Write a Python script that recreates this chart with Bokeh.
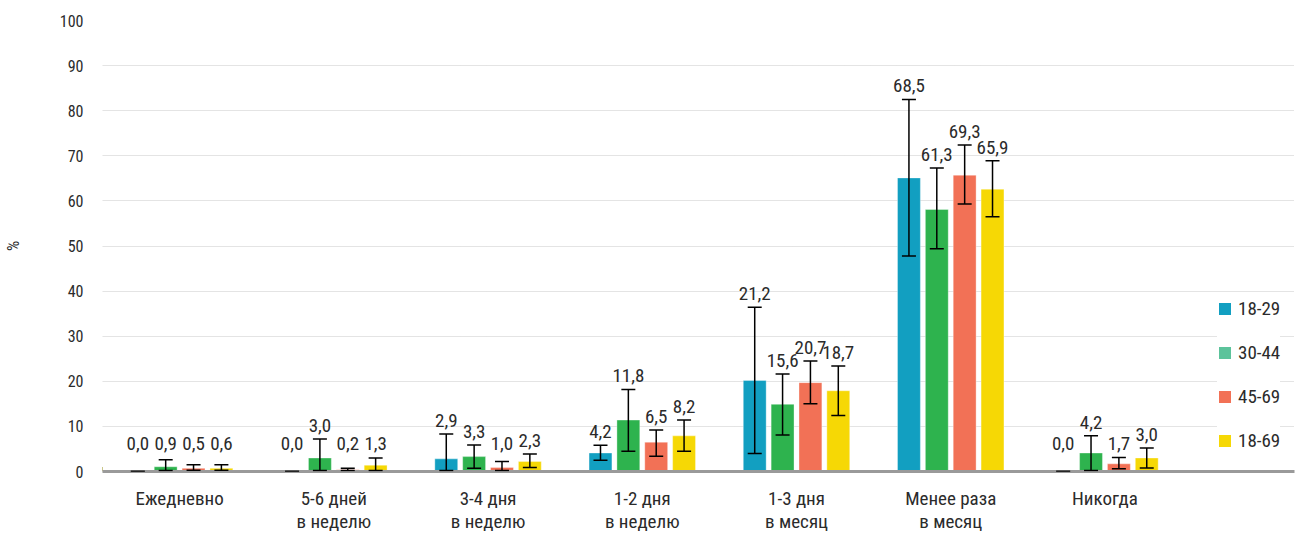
from bokeh.plotting import figure
from bokeh.models import (ColumnDataSource, Range1d, FixedTicker, Whisker, TeeHead,
                          Legend, LegendItem)
from bokeh.core.properties import value
from bokeh.embed import file_html
from bokeh.resources import INLINE

# ---------------- data ----------------
categories = ["Ежедневно", "5-6 дней\nв неделю", "3-4 дня\nв неделю", "1-2 дня\nв неделю",
              "1-3 дня\nв месяц", "Менее раза\nв месяц", "Никогда"]
series = ["18-29", "30-44", "45-69", "18-69"]

# bar heights (as drawn)
bars_18_29 = [0.0, 0.0, 2.8, 4.1, 20.2, 65.1, 0.0]
bars_30_44 = [1.05, 3.0, 3.3, 11.4, 14.9, 58.1, 4.1]
bars_45_69 = [0.7, 0.4, 0.9, 6.5, 19.7, 65.7, 1.7]
bars_18_69 = [0.7, 1.4, 2.2, 7.9, 17.9, 62.6, 3.0]

# error bars
low_18_29 = [0.0, 0.0, 0.2, 2.5, 4.0, 47.8, 0.0]
high_18_29 = [0.0, 0.0, 8.3, 5.8, 36.4, 82.5, 0.0]
low_30_44 = [0.2, 0.2, 0.7, 4.5, 8.1, 49.4, 0.2]
high_30_44 = [2.6, 7.2, 5.9, 18.2, 21.6, 67.3, 7.9]
low_45_69 = [0.3, 0.2, 0.2, 3.4, 15.0, 59.3, 0.6]
high_45_69 = [1.5, 0.7, 2.2, 9.2, 24.5, 72.4, 3.1]
low_18_69 = [0.3, 0.2, 0.9, 4.5, 12.4, 56.5, 0.8]
high_18_69 = [1.5, 3.0, 3.9, 11.4, 23.4, 68.9, 5.2]

# value labels
labels_18_29 = ["0,0", "0,0", "2,9", "4,2", "21,2", "68,5", "0,0"]
labels_30_44 = ["0,9", "3,0", "3,3", "11,8", "15,6", "61,3", "4,2"]
labels_45_69 = ["0,5", "0,2", "1,0", "6,5", "20,7", "69,3", "1,7"]
labels_18_69 = ["0,6", "1,3", "2,3", "8,2", "18,7", "65,9", "3,0"]

y_ticks = [0, 10, 20, 30, 40, 50, 60, 70, 80, 90, 100]

bar_colors = ["#129fc1", "#2eb34e", "#f27156", "#f6d805"]
legend_colors = ["#129fc1", "#5cc39b", "#f27156", "#f6d805"]

all_bars = [bars_18_29, bars_30_44, bars_45_69, bars_18_69]
all_low = [low_18_29, low_30_44, low_45_69, low_18_69]
all_high = [high_18_29, high_30_44, high_45_69, high_18_69]
all_labels = [labels_18_29, labels_30_44, labels_45_69, labels_18_69]

FONT = "Roboto Condensed"
TXT = "#2b2b2b"

# ---------------- figure ----------------
p = figure(width=1300, height=535, output_backend="svg", toolbar_location=None,
           x_range=Range1d(0, 1198 / 155), y_range=Range1d(0, 100),
           min_border_left=96, min_border_right=6, min_border_top=20, min_border_bottom=62)
p.outline_line_color = None
p.background_fill_color = "white"

group_centers = [i + 0.5 for i in range(len(categories))]
step = 28 / 155
bw = 23 / 155

for k in range(4):
    xs = [c + (k - 1.5) * step for c in group_centers]
    src = ColumnDataSource(dict(x=xs, top=all_bars[k], low=all_low[k], high=all_high[k],
                                lab=all_labels[k],
                                ly=[max(h, 3.2) for h in all_high[k]]))
    p.vbar(x="x", top="top", width=bw, source=src, fill_color=bar_colors[k],
           line_color="white", line_alpha=0.35, line_width=1)
    w = Whisker(base="x", lower="low", upper="high", source=src, dimension="height",
                line_color="black", line_width=1.5, level="overlay",
                upper_head=TeeHead(size=14, line_color="black", line_width=1.5),
                lower_head=TeeHead(size=14, line_color="black", line_width=1.5))
    p.add_layout(w)
    p.text(x="x", y="ly", text="lab", source=src, text_align="center",
           text_baseline="bottom", y_offset=-7, text_font=value(FONT),
           text_font_size="19px", text_color=TXT)

# legend swatches: renderers kept outside the visible x range
items = []
for k in range(4):
    r = p.vbar(x=[-5], top=[1], width=bw, fill_color=legend_colors[k], line_color=None)
    items.append(LegendItem(label=series[k], renderers=[r]))
legend = Legend(items=items, location=(1115, 19), glyph_width=15, glyph_height=15,
                label_height=20, spacing=21, padding=8, margin=0, label_standoff=6,
                label_text_font=FONT, label_text_font_size="19px", label_text_color=TXT,
                background_fill_color="white", background_fill_alpha=1.0,
                border_line_color=None)
p.add_layout(legend)

# axes
p.xaxis.ticker = FixedTicker(ticks=group_centers)
p.xaxis.major_label_overrides = {c: lab for c, lab in zip(group_centers, categories)}
p.xaxis.major_tick_line_color = None
p.xaxis.minor_tick_line_color = None
p.xaxis.axis_line_color = "#9a9a9a"
p.xaxis.axis_line_width = 3
p.xaxis.major_label_standoff = 9
p.xaxis.major_label_text_font = FONT
p.xaxis.major_label_text_font_size = "19px"
p.xaxis.major_label_text_line_height = 1.0
p.xaxis.major_label_text_color = TXT
p.xgrid.grid_line_color = None

p.yaxis.ticker = FixedTicker(ticks=y_ticks)
p.yaxis.axis_line_color = None
p.yaxis.major_tick_line_color = None
p.yaxis.minor_tick_line_color = None
p.yaxis.major_label_standoff = 13
p.yaxis.major_label_text_font = FONT
p.yaxis.major_label_text_font_size = "16px"
p.yaxis.major_label_text_color = TXT
p.yaxis.axis_label = "%"
p.yaxis.axis_label_text_font = FONT
p.yaxis.axis_label_text_font_size = "16px"
p.yaxis.axis_label_text_font_style = "normal"
p.yaxis.axis_label_text_color = TXT
p.yaxis.axis_label_standoff = 34
p.ygrid.grid_line_color = "#c8c8c8"
p.ygrid.grid_line_dash = "1 1"
p.ygrid.grid_line_width = 1

open("out.html", "w").write(file_html(p, INLINE))
